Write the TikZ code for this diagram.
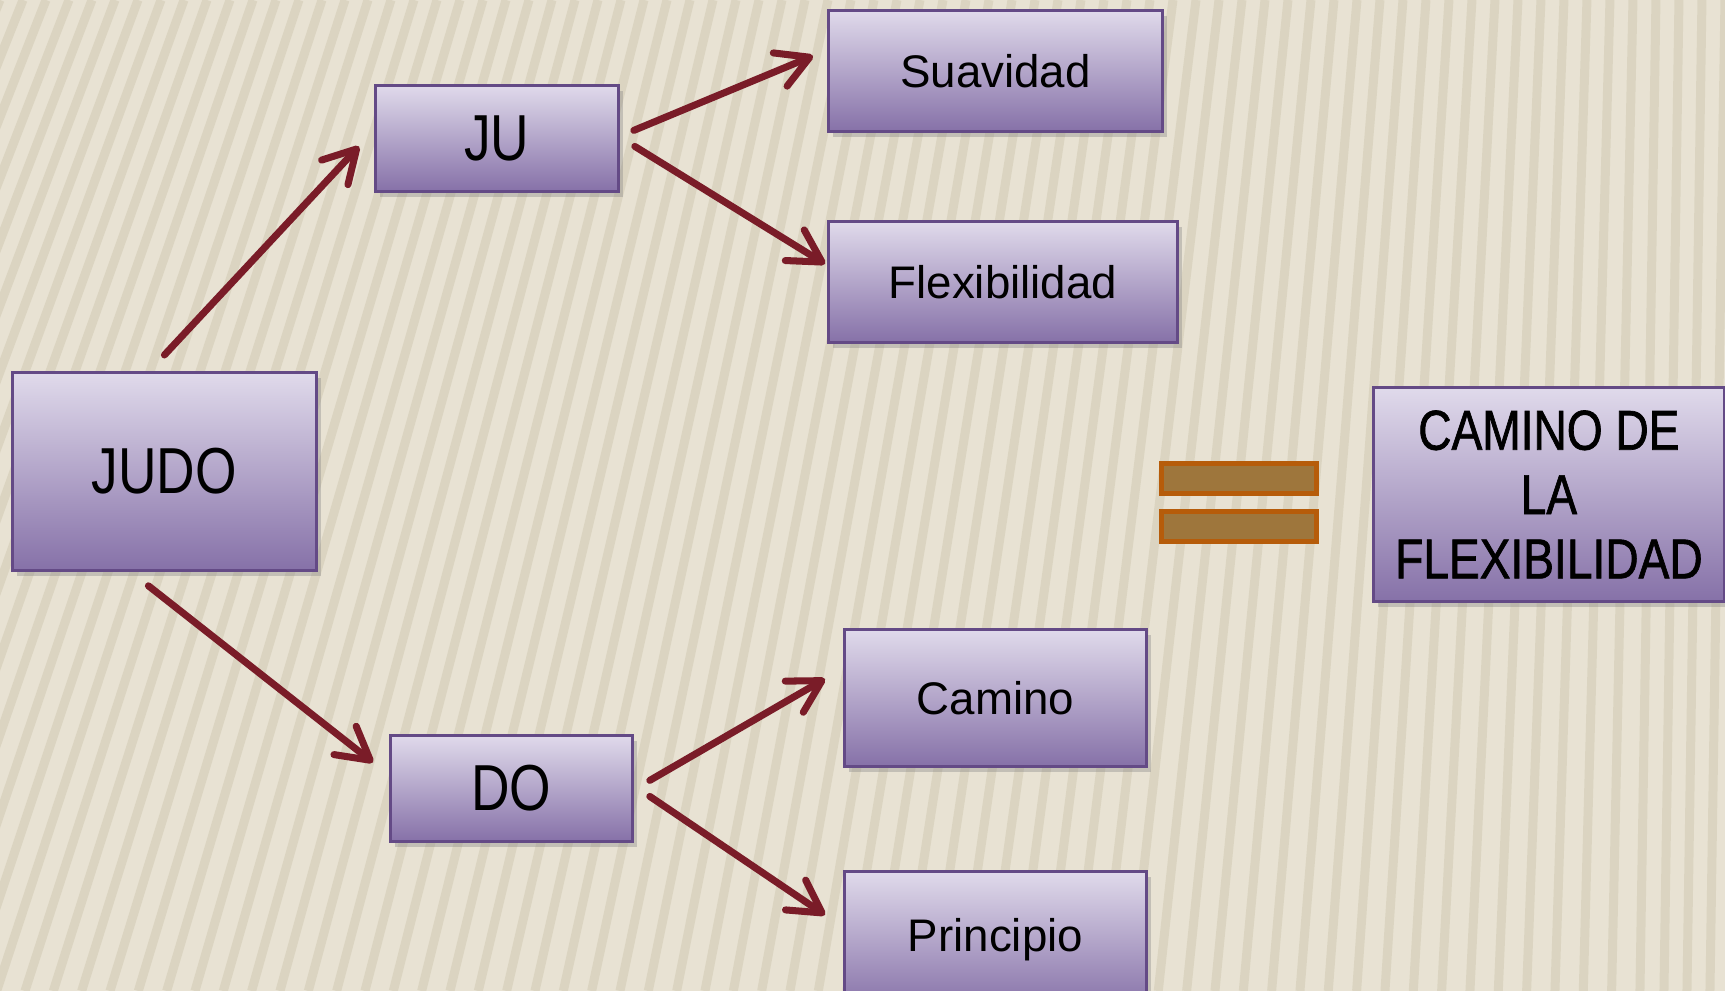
\documentclass[tikz,border=0pt]{standalone}
\usepackage{fontspec}
\setmainfont{Liberation Sans}
\newfontfamily\capsfont[FakeStretch=0.82]{Liberation Sans}
\newfontfamily\narrowfont[FakeStretch=0.82,FakeBold=1.2]{Liberation Sans}
\usetikzlibrary{calc,shadows,arrows.meta}
\definecolor{bgbeige}{RGB}{232,226,211}
\definecolor{stripe}{RGB}{190,181,152}
\definecolor{boxtop}{RGB}{224,218,235}
\definecolor{boxbot}{RGB}{134,113,168}
\definecolor{boxline}{RGB}{100,74,134}
\definecolor{arrowred}{RGB}{122,28,40}
\definecolor{eqfill}{RGB}{158,118,60}
\definecolor{eqline}{RGB}{182,92,10}
\tikzstyle{rect} = [rectangle, draw=boxline, line width=0.8pt, top color=boxtop, bottom color=boxbot, drop shadow={opacity=0.35, shadow xshift=0.05cm, shadow yshift=-0.06cm}, text centered, anchor=north west, inner sep=0pt]
\tikzstyle{bar} = [rectangle, draw=eqline, fill=eqfill, line width=1.4pt, minimum width=1.55cm, minimum height=0.3cm, anchor=north west]
\tikzstyle{arr} = [-{Straight Barb[round, length=3.2mm, width=3.6mm]}, arrowred, line width=2pt, line cap=round]

\begin{document}
\begin{tikzpicture}
            \useasboundingbox (0,0) rectangle (17.25,-9.91);
            \fill[bgbeige] (0,0) rectangle (17.25,-9.91);
            \begin{scope}
                \clip (0,0) rectangle (17.25,-9.91);
                \foreach \i in {0,...,80} {
                    \pgfmathsetmacro\xt{0.23*\i}
                    \pgfmathsetmacro\xb{\xt-max(0.15,4*(1-\xt/17.25))}
                    \draw[stripe, line width=0.09cm, opacity=0.3] (\xt,0) -- (\xb,-9.91);
                }
            \end{scope}

            \node (JUDO) [rect, minimum width=3.04cm, minimum height=1.98cm, font=\capsfont\fontsize{18.5}{22}\selectfont] at (0.11,-3.71) {JUDO};
            \node (JU) [rect, minimum width=2.43cm, minimum height=1.06cm, font=\capsfont\fontsize{18.5}{22}\selectfont] at (3.74,-0.84) {JU};
            \node (DO) [rect, minimum width=2.42cm, minimum height=1.06cm, font=\capsfont\fontsize{18.5}{22}\selectfont] at (3.89,-7.34) {DO};

            \node (S) [rect, minimum width=3.34cm, minimum height=1.21cm, font=\fontsize{13}{16}\selectfont] at (8.27,-0.09) {Suavidad};
            \node (F) [rect, minimum width=3.49cm, minimum height=1.21cm, font=\fontsize{13}{16}\selectfont] at (8.27,-2.20) {Flexibilidad};
            \node (C) [rect, minimum width=3.02cm, minimum height=1.37cm, font=\fontsize{13}{16}\selectfont] at (8.43,-6.28) {Camino};
            \node (P) [rect, minimum width=3.02cm, minimum height=1.37cm, font=\fontsize{13}{16}\selectfont] at (8.43,-8.70) {Principio};

            \node (EQ1) [bar] at (11.59,-4.61) {};
            \node (EQ2) [bar] at (11.59,-5.09) {};

            \node (CF) [rect, minimum width=3.51cm, minimum height=2.14cm, align=center, font=\narrowfont\fontsize{16}{18.3}\selectfont] at (13.72,-3.86) {CAMINO DE\\LA\\FLEXIBILIDAD};

            \draw[arr] ($(JUDO.north)+(0,0.16)$) -- ($(JU.west)+(-0.15,-0.08)$);
            \draw[arr] ($(JUDO.south)+(-0.16,-0.14)$) -- ($(DO.west)+(-0.16,0.26)$);
            \draw[arr] ($(JU.east)+(0.14,0.08)$) -- ($(S.west)+(-0.14,0.15)$);
            \draw[arr] ($(JU.east)+(0.15,-0.08)$) -- ($(F.west)+(-0.02,0.18)$);
            \draw[arr] ($(DO.east)+(0.16,0.08)$) -- ($(C.west)+(-0.18,0.19)$);
            \draw[arr] ($(DO.east)+(0.16,-0.08)$) -- ($(P.west)+(-0.18,0.25)$);
        \end{tikzpicture}
\end{document}
